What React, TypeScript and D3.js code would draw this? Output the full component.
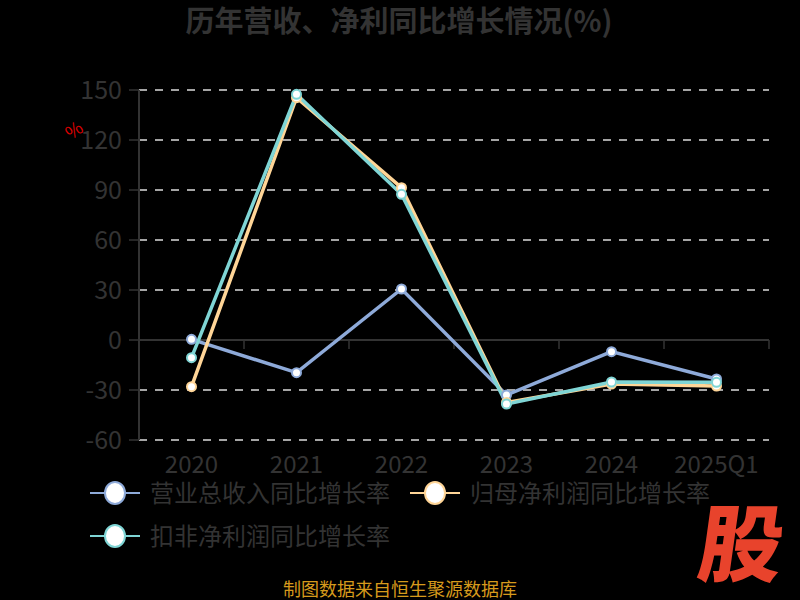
import React from "react";
import * as d3 from "d3";

const categories = ["2020", "2021", "2022", "2023", "2024", "2025Q1"];
const revenueGrowth = [0.4, -19.6, 30.6, -33.0, -7.0, -23.4];
const netProfitGrowth = [-28.0, 145.4, 91.4, -37.5, -26.4, -27.6];
const deductedGrowth = [-10.6, 147.4, 87.4, -38.4, -25.2, -25.4];
const yTicks = [-60, -30, 0, 30, 60, 90, 120, 150];
const seriesNames = ["营业总收入同比增长率", "归母净利润同比增长率", "扣非净利润同比增长率"];
const seriesColors = ["#8eaad9", "#ffd597", "#7fd5d5"];

const W = 800, H = 600;
const left = 139, right = 769, top = 90, bottom = 440;

export default function App() {
  const x = d3.scaleBand<string>().domain(categories).range([left, right]);
  const y = d3.scaleLinear().domain([-60, 150]).range([bottom, top]);
  const line = d3
    .line<number>()
    .x((_, i) => (x(categories[i]) as number) + x.bandwidth() / 2)
    .y((d) => y(d));
  const series = [revenueGrowth, netProfitGrowth, deductedGrowth];
  const font = "'Noto Sans CJK SC', 'Noto Sans', sans-serif";
  const legendItems = [
    { x: 90, y: 493 },
    { x: 410, y: 493 },
    { x: 90, y: 536 },
  ];
  return (
    <div style={{ position: "fixed", left: 0, top: 0, width: W, height: H, background: "#000" }}>
      <svg width={W} height={H} style={{ display: "block", background: "#000" }} fontFamily={font}>
        <rect x={0} y={0} width={W} height={H} fill="#000" />
        <text x={399} y={22} dy="0.36em" textAnchor="middle" fontSize={29} fontWeight="bold" fill="#333">
          历年营收、净利同比增长情况(%)
        </text>
        {yTicks.filter((t) => t !== 0).map((t) => (
          <line key={t} x1={left} x2={right} y1={y(t)} y2={y(t)} stroke="#dcdcdc" strokeWidth={1.5} strokeDasharray="8,8" />
        ))}
        <line x1={left} x2={left} y1={top} y2={bottom} stroke="#333" strokeWidth={2} />
        {yTicks.map((t) => (
          <g key={"yt" + t}>
            <line x1={left - 10} x2={left} y1={y(t)} y2={y(t)} stroke="#333" strokeWidth={1.5} />
            <text x={left - 17} y={y(t)} dy="0.35em" textAnchor="end" fontSize={25} fill="#333">
              {t}
            </text>
          </g>
        ))}
        <line x1={left} x2={right} y1={y(0)} y2={y(0)} stroke="#333" strokeWidth={2} />
        {categories.map((c, i) => (
          <g key={c}>
            <line x1={(x(c) as number) + x.bandwidth()} x2={(x(c) as number) + x.bandwidth()} y1={y(0)} y2={y(0) + 9} stroke="#333" strokeWidth={1.5} />
            <text x={(x(c) as number) + x.bandwidth() / 2} y={473} textAnchor="middle" fontSize={24} fill="#333">
              {c}
            </text>
          </g>
        ))}
        <text x={76} y={136} fontSize={18} fill="#e00000" textAnchor="middle" transform="rotate(-35 76 133)">%</text>
        {series.map((s, k) => (
          <path key={"l" + k} d={line(s) as string} fill="none" stroke={seriesColors[k]} strokeWidth={3.5} />
        ))}
        {series.map((s, k) =>
          s.map((v, i) => (
            <circle key={"c" + k + i} cx={(x(categories[i]) as number) + x.bandwidth() / 2} cy={y(v)} r={4.5} fill="#fff" stroke={seriesColors[k]} strokeWidth={2} />
          ))
        )}
        {legendItems.map((p, k) => (
          <g key={"lg" + k}>
            <line x1={p.x} x2={p.x + 50} y1={p.y} y2={p.y} stroke={seriesColors[k]} strokeWidth={2} />
            <ellipse cx={p.x + 25} cy={p.y} rx={10} ry={11} fill="#fff" stroke={seriesColors[k]} strokeWidth={2} />
            <text x={p.x + 60} y={p.y + 1} dy="0.35em" fontSize={24} fill="#333">
              {seriesNames[k]}
            </text>
          </g>
        ))}
        <text x={737} y={575} textAnchor="middle" fontSize={84} fontWeight="900" fill="#e8432c" transform="skewX(-8) translate(81 0)">
          股
        </text>
        <text x={400} y={596} textAnchor="middle" fontSize={18} fill="#d69a1c">
          制图数据来自恒生聚源数据库
        </text>
      </svg>
    </div>
  );
}
